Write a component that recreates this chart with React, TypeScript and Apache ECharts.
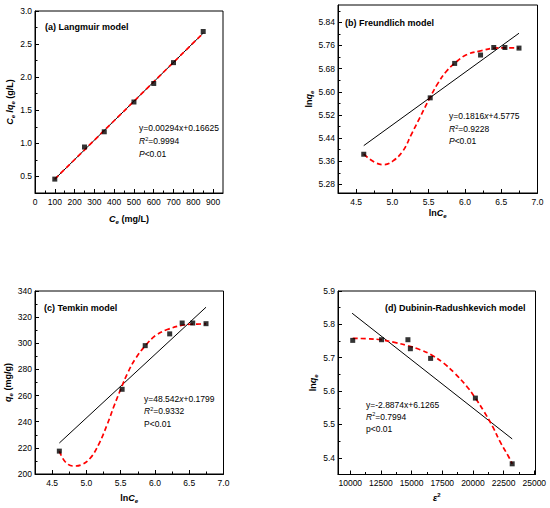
import React, { useEffect, useRef } from "react";
import * as echarts from "echarts";

const FONT = '"Liberation Sans", Arial, Helvetica, sans-serif';

// ---------- (a) Langmuir ----------
const langCe = [100, 250, 350, 500, 600, 700, 850];
const langRatio = [0.46, 0.945, 1.175, 1.625, 1.905, 2.22, 2.69];
const langSlope = 0.00294;
const langIntercept = 0.16625;
const langXTicks = [0, 100, 200, 300, 400, 500, 600, 700, 800, 900];
const langXMinor = [50, 150, 250, 350, 450, 550, 650, 750, 850];
const langYTicks = [0.5, 1.0, 1.5, 2.0, 2.5, 3.0];
const langYMinor = [0.75, 1.25, 1.75, 2.25, 2.75];

// ---------- (b) Freundlich ----------
const lnCe = [4.605, 5.521, 5.858, 6.215, 6.397, 6.551, 6.745];
const freLnQe = [5.384, 5.579, 5.698, 5.727, 5.753, 5.753, 5.751];
const freSlope = 0.1816;
const freIntercept = 4.5775;
const freCurveX = [4.605, 4.756, 4.884, 5.009, 5.147, 5.262, 5.377, 5.515, 5.629, 5.745, 5.86, 6.021, 6.228, 6.41, 6.56, 6.745];
const freCurveY = [5.384, 5.356, 5.348, 5.361, 5.396, 5.453, 5.51, 5.579, 5.63, 5.671, 5.699, 5.728, 5.742, 5.751, 5.752, 5.751];
const lnXTicks = [4.5, 5.0, 5.5, 6.0, 6.5, 7.0];
const lnXMinor = [4.75, 5.25, 5.75, 6.25, 6.75];
const freYTicks = [5.28, 5.36, 5.44, 5.52, 5.6, 5.68, 5.76, 5.84];
const freYMinor = [5.32, 5.4, 5.48, 5.56, 5.64, 5.72, 5.8, 5.88];

// ---------- (c) Temkin ----------
const temQe = [217.5, 264.8, 298.2, 307.2, 315.5, 315.5, 315.0];
const temSlope = 48.542;
const temIntercept = 0.1799;
const temCurveX = [4.605, 4.69, 4.81, 4.92, 5.055, 5.187, 5.31, 5.4, 5.507, 5.6, 5.72, 5.87, 6.01, 6.18, 6.4, 6.55, 6.745];
const temCurveY = [217.5, 209.4, 206.1, 206.9, 212, 223.5, 238.8, 251.6, 265.7, 277.1, 288.6, 298.8, 306, 310.5, 313.8, 314.6, 314.8];
const temYTicks = [200, 220, 240, 260, 280, 300, 320, 340];
const temYMinor = [210, 230, 250, 270, 290, 310, 330];

// ---------- (d) Dubinin-Radushkevich ----------
const eps2 = [10200, 12550, 14700, 14900, 16550, 20200, 23200];
const drLnQe = [5.752, 5.754, 5.754, 5.727, 5.698, 5.579, 5.382];
const drSlope = -2.8874e-5;
const drIntercept = 6.1265;
const drCurveX = [10200, 11300, 12500, 13600, 14700, 15700, 16600, 17600, 18500, 19500, 20200, 20900, 21600, 22200, 22900, 23200];
const drCurveY = [5.758, 5.757, 5.754, 5.746, 5.736, 5.724, 5.709, 5.684, 5.654, 5.614, 5.579, 5.539, 5.494, 5.449, 5.404, 5.382];
const drXTicks = [10000, 12500, 15000, 17500, 20000, 22500, 25000];
const drXMinor = [11250, 13750, 16250, 18750, 21250, 23750];
const drYTicks = [5.4, 5.5, 5.6, 5.7, 5.8, 5.9];
const drYMinor = [5.45, 5.55, 5.65, 5.75, 5.85];

const zip = (xs: number[], ys: number[]) => xs.map((x, i) => [x, ys[i]]);
const fitLine = (xs: number[], k: number, b: number) => {
  const x0 = xs[0];
  const x1 = xs[xs.length - 1];
  return [
    [x0, k * x0 + b],
    [x1, k * x1 + b],
  ];
};

const nameRich = {
  n: { fontSize: 9, fontWeight: "bold", fontFamily: FONT, color: "#000", lineHeight: 12 },
  i: { fontSize: 9, fontWeight: "bold", fontStyle: "italic", fontFamily: FONT, color: "#000", lineHeight: 12 },
  sub: { fontSize: 6, fontWeight: "bold", fontStyle: "italic", fontFamily: FONT, color: "#000", verticalAlign: "bottom", lineHeight: 6 },
  sup: { fontSize: 6, fontWeight: "bold", fontFamily: FONT, color: "#000", verticalAlign: "top", lineHeight: 6 },
};

const eqRich = {
  i: { fontSize: 8.5, fontStyle: "italic", fontFamily: FONT, color: "#000", lineHeight: 11 },
  n: { fontSize: 8.5, fontFamily: FONT, color: "#000", lineHeight: 11 },
  sup: { fontSize: 5.5, fontFamily: FONT, color: "#000", verticalAlign: "top", lineHeight: 5 },
};

type Panel = {
  rect: { left: number; top: number; width: number; height: number };
  xr: [number, number];
  yr: [number, number];
  xt: number[];
  xm: number[];
  yt: number[];
  ym: number[];
  xfmt: (v: number) => string;
  yfmt: (v: number) => string;
  xName: string;
  yName: string;
  xGap: number;
  yGap: number;
};

const panels: Panel[] = [
  {
    rect: { left: 35, top: 11, width: 188, height: 182 },
    xr: [0, 950], yr: [0.25, 3.0],
    xt: langXTicks, xm: langXMinor, yt: langYTicks, ym: langYMinor,
    xfmt: (v) => String(v), yfmt: (v) => v.toFixed(1),
    xName: "{i|C}{sub|e}{n| (mg/L)}", yName: "{i|C}{sub|e}{n| /}{i|q}{sub|e}{n| (g/L)}",
    xGap: 20, yGap: 17,
  },
  {
    rect: { left: 338, top: 5, width: 199.5, height: 188 },
    xr: [4.25, 7.0], yr: [5.25, 5.9],
    xt: lnXTicks, xm: lnXMinor, yt: freYTicks, ym: freYMinor,
    xfmt: (v) => v.toFixed(1), yfmt: (v) => v.toFixed(2),
    xName: "{n|ln}{i|C}{sub|e}", yName: "{n|ln}{i|q}{sub|e}",
    xGap: 14, yGap: 21,
  },
  {
    rect: { left: 35, top: 291, width: 188.5, height: 183 },
    xr: [4.25, 7.0], yr: [200, 340],
    xt: lnXTicks, xm: lnXMinor, yt: temYTicks, ym: temYMinor,
    xfmt: (v) => v.toFixed(1), yfmt: (v) => String(v),
    xName: "{n|ln}{i|C}{sub|e}", yName: "{i|q}{sub|e}{n| (mg/g)}",
    xGap: 18, yGap: 21,
  },
  {
    rect: { left: 338, top: 291, width: 197.5, height: 183.5 },
    xr: [9000, 25100], yr: [5.35, 5.9],
    xt: drXTicks, xm: drXMinor, yt: drYTicks, ym: drYMinor,
    xfmt: (v) => String(v), yfmt: (v) => v.toFixed(1),
    xName: "{i|ε}{sup|2}", yName: "{n|ln}{i|q}{sub|e}",
    xGap: 17, yGap: 17,
  },
];

const tickLabel = { color: "#000", fontSize: 8.5, fontFamily: FONT };

function buildAxes() {
  const xAxis: any[] = [];
  const yAxis: any[] = [];
  const grid: any[] = [];
  panels.forEach((p, i) => {
    grid.push({
      ...p.rect,
      show: true,
      borderColor: "#000",
      borderWidth: 1,
      backgroundColor: "transparent",
      containLabel: false,
      outerBoundsMode: "none",
    });
    xAxis.push({
      type: "value", gridIndex: i, position: "bottom", min: p.xr[0], max: p.xr[1],
      axisLine: { show: true, onZero: false, lineStyle: { color: "#000", width: 1 } },
      axisTick: { show: true, inside: true, length: 4, customValues: p.xt, lineStyle: { color: "#000", width: 1 } },
      axisLabel: { show: true, customValues: p.xt, formatter: p.xfmt, margin: 4, ...tickLabel },
      splitLine: { show: false },
      name: p.xName, nameLocation: "middle", nameGap: p.xGap,
      nameTextStyle: { fontSize: 9, fontWeight: "bold", fontFamily: FONT, color: "#000", rich: nameRich },
    });
    xAxis.push({
      type: "value", gridIndex: i, position: "bottom", min: p.xr[0], max: p.xr[1],
      axisLine: { show: false, onZero: false },
      axisTick: { show: true, inside: true, length: 2.5, customValues: p.xm, lineStyle: { color: "#000", width: 1 } },
      axisLabel: { show: false },
      splitLine: { show: false },
    });
    yAxis.push({
      type: "value", gridIndex: i, position: "left", min: p.yr[0], max: p.yr[1],
      axisLine: { show: true, onZero: false, lineStyle: { color: "#000", width: 1 } },
      axisTick: { show: true, inside: true, length: 4, customValues: p.yt, lineStyle: { color: "#000", width: 1 } },
      axisLabel: { show: true, customValues: p.yt, formatter: p.yfmt, margin: 3, ...tickLabel },
      splitLine: { show: false },
      name: p.yName, nameLocation: "middle", nameGap: p.yGap, nameRotate: 90,
      nameTextStyle: { fontSize: 9, fontWeight: "bold", fontFamily: FONT, color: "#000", rich: nameRich },
    });
    yAxis.push({
      type: "value", gridIndex: i, position: "left", min: p.yr[0], max: p.yr[1],
      axisLine: { show: false, onZero: false },
      axisTick: { show: true, inside: true, length: 2.5, customValues: p.ym, lineStyle: { color: "#000", width: 1 } },
      axisLabel: { show: false },
      splitLine: { show: false },
    });
  });
  return { xAxis, yAxis, grid };
}

function scatter(i: number, data: number[][]) {
  return {
    type: "scatter", xAxisIndex: 2 * i, yAxisIndex: 2 * i, data,
    symbol: "rect", symbolSize: 5, itemStyle: { color: "#000" }, z: 5,
  };
}
function solid(i: number, data: number[][]) {
  return {
    type: "line", xAxisIndex: 2 * i, yAxisIndex: 2 * i, data, symbol: "none",
    lineStyle: { color: "#000", width: 1 }, z: 3,
  };
}
function dashed(i: number, data: number[][], smooth: boolean) {
  return {
    type: "line", xAxisIndex: 2 * i, yAxisIndex: 2 * i, data, symbol: "none", smooth: smooth ? 0.4 : false,
    lineStyle: { color: "#ff0000", width: 1.7, type: [5, 3] }, z: 4,
  };
}

function title(x: number, y: number, text: string) {
  return {
    type: "text", x, y, z: 10,
    style: { text, fill: "#000", fontSize: 9, fontWeight: "bold", fontFamily: FONT, verticalAlign: "middle", align: "left" },
  };
}
function eqLine(x: number, y: number, text: string) {
  return {
    type: "text", x, y, z: 10,
    style: { text, fill: "#000", fontSize: 8.5, fontFamily: FONT, verticalAlign: "middle", align: "left", rich: eqRich },
  };
}

export default function App() {
  const ref = useRef<HTMLDivElement>(null);
  useEffect(() => {
    if (!ref.current) return;
    const chart = echarts.init(ref.current, null, { renderer: "svg" });
    const { xAxis, yAxis, grid } = buildAxes();
    const option: any = {
      animation: false,
      backgroundColor: "#fff",
      textStyle: { fontFamily: FONT },
      grid,
      xAxis,
      yAxis,
      series: [
        solid(0, fitLine(langCe, langSlope, langIntercept)),
        dashed(0, fitLine(langCe, langSlope, langIntercept), false),
        scatter(0, zip(langCe, langRatio)),
        solid(1, fitLine(lnCe, freSlope, freIntercept)),
        dashed(1, zip(freCurveX, freCurveY), true),
        scatter(1, zip(lnCe, freLnQe)),
        solid(2, fitLine(lnCe, temSlope, temIntercept)),
        dashed(2, zip(temCurveX, temCurveY), true),
        scatter(2, zip(lnCe, temQe)),
        solid(3, fitLine([10150, 23200], drSlope, drIntercept)),
        dashed(3, zip(drCurveX, drCurveY), true),
        scatter(3, zip(eps2, drLnQe)),
      ],
      graphic: [
        title(45, 27, "(a) Langmuir model"),
        title(345, 23, "(b) Freundlich model"),
        title(44, 308, "(c) Temkin model"),
        title(385, 308, "(d) Dubinin-Radushkevich model"),
        eqLine(139, 128, "y=0.00294x+0.16625"),
        eqLine(139, 141, "{i|R}{sup|2}{n|=0.9994}"),
        eqLine(139, 154, "{i|P}{n|<0.01}"),
        eqLine(449, 116, "y=0.1816{i|x}{n|+4.5775}"),
        eqLine(449, 129, "{i|R}{sup|2}{n|=0.9228}"),
        eqLine(449, 141, "{i|P}{n|<0.01}"),
        eqLine(144, 398.5, "y=48.542{i|x}{n|+0.1799}"),
        eqLine(144, 411, "{i|R}{sup|2}{n|=0.9332}"),
        eqLine(144, 424, "P<0.01"),
        eqLine(366, 404.5, "y=-2.8874x+6.1265"),
        eqLine(366, 416.5, "{i|R}{sup|2}{n|=0.7994}"),
        eqLine(366, 428.5, "p<0.01"),
      ],
    };
    chart.setOption(option);
    return () => chart.dispose();
  }, []);
  return (
    <div
      ref={ref}
      style={{ position: "fixed", left: 0, top: 0, width: 550, height: 508, background: "#fff" }}
    />
  );
}
